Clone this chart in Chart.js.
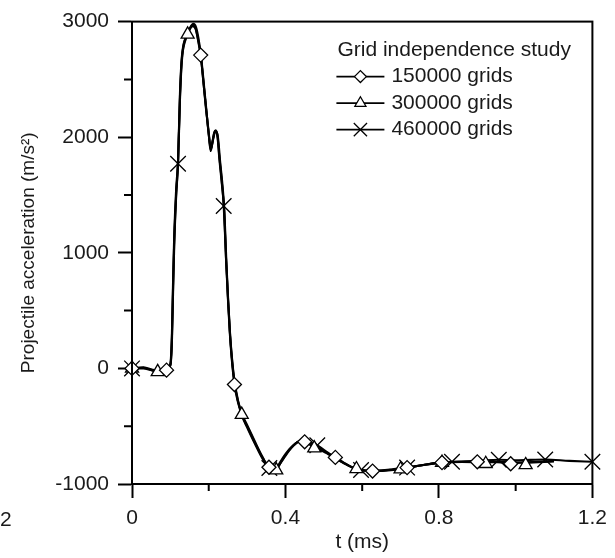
<!DOCTYPE html>
<html>
<head>
<meta charset="utf-8">
<script src="https://cdn.jsdelivr.net/npm/chart.js@4/dist/chart.umd.min.js"></script>
<style>
  html, body { margin: 0; padding: 0; background: #fff; }
  canvas { display: block; }
</style>
</head>
<body>
<canvas id="chart" width="615" height="558"></canvas>
<script>
// curve samples (t in ms, acceleration in m/s2)
const t150 = [0, 0.03, 0.06, 0.09, 0.1, 0.104, 0.107, 0.11, 0.115, 0.12, 0.125, 0.13, 0.14, 0.15, 0.158, 0.166, 0.172, 0.179, 0.186, 0.193, 0.2, 0.205, 0.21, 0.216, 0.222, 0.228, 0.234, 0.24, 0.245, 0.25, 0.255, 0.26, 0.267, 0.276, 0.286, 0.3, 0.32, 0.34, 0.357, 0.367, 0.378, 0.39, 0.41, 0.43, 0.45, 0.47, 0.49, 0.51, 0.53, 0.55, 0.57, 0.59, 0.61, 0.627, 0.65, 0.68, 0.717, 0.76, 0.808, 0.85, 0.9, 0.95, 0.987, 1.04, 1.1]
const a150 = [0, 5, -20, -15, 30, 250, 700, 1100, 1500, 1780, 2350, 2680, 2860, 2940, 2965, 2940, 2850, 2710, 2480, 2240, 2030, 1880, 1960, 2050, 2020, 1800, 1600, 1380, 950, 600, 300, 80, -140, -290, -400, -500, -640, -770, -855, -870, -855, -790, -700, -640, -630, -660, -695, -735, -770, -810, -850, -875, -885, -888, -885, -875, -858, -835, -815, -808, -808, -810, -820, -810, -800]

const t300 = [0, 0.03, 0.067, 0.09, 0.1, 0.104, 0.107, 0.11, 0.115, 0.12, 0.125, 0.13, 0.145, 0.152, 0.16, 0.167, 0.173, 0.18, 0.187, 0.194, 0.2, 0.206, 0.212, 0.218, 0.224, 0.23, 0.236, 0.241, 0.246, 0.251, 0.256, 0.262, 0.27, 0.286, 0.3, 0.32, 0.34, 0.358, 0.376, 0.39, 0.41, 0.43, 0.445, 0.46, 0.475, 0.5, 0.52, 0.55, 0.585, 0.62, 0.66, 0.7, 0.75, 0.808, 0.86, 0.922, 0.97, 1.026, 1.1]
const a300 = [0, 0, -30, -10, 40, 300, 750, 1150, 1550, 1800, 2380, 2700, 2890, 2950, 2980, 2950, 2860, 2700, 2470, 2230, 2020, 1900, 1990, 2060, 2000, 1780, 1580, 1350, 920, 570, 280, 40, -170, -400, -510, -650, -780, -860, -870, -800, -705, -640, -625, -650, -690, -720, -760, -815, -870, -888, -885, -872, -840, -815, -810, -812, -810, -815, -805]

const t460 = [0, 0.03, 0.06, 0.09, 0.1, 0.104, 0.107, 0.11, 0.115, 0.12, 0.125, 0.13, 0.14, 0.15, 0.158, 0.166, 0.172, 0.18, 0.187, 0.194, 0.2, 0.205, 0.21, 0.216, 0.222, 0.228, 0.234, 0.239, 0.245, 0.25, 0.255, 0.26, 0.267, 0.276, 0.286, 0.3, 0.32, 0.34, 0.358, 0.37, 0.38, 0.395, 0.415, 0.435, 0.45, 0.465, 0.483, 0.5, 0.52, 0.54, 0.56, 0.58, 0.597, 0.62, 0.65, 0.68, 0.717, 0.76, 0.8, 0.834, 0.9, 0.956, 1.0, 1.077, 1.14, 1.2]
const a460 = [0, 10, -15, -5, 25, 220, 650, 1050, 1480, 1770, 2320, 2660, 2850, 2930, 2960, 2935, 2840, 2680, 2450, 2220, 2040, 1890, 1970, 2055, 2030, 1820, 1620, 1405, 960, 620, 320, 100, -120, -280, -390, -490, -630, -765, -862, -868, -850, -780, -690, -630, -620, -640, -665, -705, -750, -795, -835, -865, -879, -885, -882, -872, -858, -835, -815, -808, -800, -790, -795, -788, -800, -808]

// symbol positions
const mt150 = [0, 0.09, 0.179, 0.267, 0.357, 0.45, 0.53, 0.627, 0.717, 0.808, 0.9, 0.987]
const ma150 = [0, -15, 2710, -140, -855, -635, -770, -888, -858, -815, -808, -825]
const mt300 = [0, 0.067, 0.145, 0.286, 0.376, 0.475, 0.585, 0.7, 0.808, 0.922, 1.026]
const ma300 = [0, -30, 2890, -400, -880, -690, -870, -872, -815, -825, -835]
const mt460 = [0, 0.12, 0.239, 0.358, 0.483, 0.597, 0.717, 0.834, 0.956, 1.077, 1.2]
const ma460 = [0, 1770, 1405, -862, -665, -879, -858, -808, -790, -788, -808]

const seriesNames = ['150000 grids', '300000 grids', '460000 grids']
const legendTitle = 'Grid independence study'
const xTickValues = [0, 0.4, 0.8, 1.2]
const yTickValues = [-1000, 0, 1000, 2000, 3000]

const FONT = 'Liberation Sans, Arial, sans-serif'
const TXT = '#1a1a1a'
const styles = [
  { pointStyle: 'rectRot', radius: 7 },
  { pointStyle: 'triangle', radius: 7.5 },
  { pointStyle: 'crossRot', radius: 11 },
]

const zip = (xs, ys) => xs.map((x, i) => ({ x, y: ys[i] }))

function curve(xs, ys) {
  return {
    type: 'line',
    data: zip(xs, ys),
    borderColor: '#000',
    borderWidth: 2.1,
    pointRadius: 0,
    cubicInterpolationMode: 'monotone',
    fill: false,
    order: 1,
  }
}

function symbols(xs, ys, s) {
  return {
    type: 'scatter',
    data: zip(xs, ys),
    showLine: false,
    pointStyle: s.pointStyle,
    pointRadius: s.radius,
    pointBackgroundColor: '#fff',
    pointBorderColor: '#000',
    pointBorderWidth: 1.3,
    clip: false,
    order: 0,
  }
}

// minor ticks + frame
const frame = {
  id: 'frame',
  afterDatasetsDraw(chart) {
    const { ctx, chartArea: a, scales: { x, y } } = chart
    ctx.save()
    ctx.strokeStyle = '#000'
    ctx.lineWidth = 2
    ctx.beginPath()
    for (let i = 0; i < x.ticks.length - 1; i++) {
      const px = x.getPixelForValue((x.ticks[i].value + x.ticks[i + 1].value) / 2)
      ctx.moveTo(px, a.bottom)
      ctx.lineTo(px, a.bottom + 7)
    }
    for (let i = 0; i < y.ticks.length - 1; i++) {
      const py = y.getPixelForValue((y.ticks[i].value + y.ticks[i + 1].value) / 2)
      ctx.moveTo(a.left, py)
      ctx.lineTo(a.left - 8, py)
    }
    ctx.stroke()
    ctx.strokeRect(a.left, a.top, a.right - a.left, a.bottom - a.top)
    ctx.restore()
  },
}

// legend drawn inside the plot, upper right
const legendBox = {
  id: 'legendBox',
  afterDraw(chart) {
    const { ctx, chartArea: a } = chart
    const left = a.right - 255
    ctx.save()
    ctx.font = `21px ${FONT}`
    ctx.fillStyle = TXT
    ctx.textBaseline = 'middle'
    ctx.textAlign = 'left'
    ctx.fillText(legendTitle, left, a.top + 29)
    seriesNames.forEach((name, i) => {
      const cy = a.top + 55 + i * 26.5
      ctx.strokeStyle = '#000'
      ctx.lineWidth = 1.8
      ctx.beginPath()
      ctx.moveTo(left - 1, cy)
      ctx.lineTo(left + 47, cy)
      ctx.stroke()
      ctx.fillStyle = '#fff'
      ctx.lineWidth = 1.3
      Chart.helpers.drawPoint(ctx, { pointStyle: styles[i].pointStyle, radius: styles[i].radius * 0.85, borderWidth: 1.3 }, left + 23, cy)
      ctx.fillStyle = TXT
      ctx.fillText(name, left + 54, cy)
    })
    // edge of the neighbouring panel, cut off in the scan
    ctx.fillText('2', 0, a.bottom + 36)
    ctx.restore()
  },
}

new Chart(document.getElementById('chart'), {
  type: 'scatter',
  data: {
    datasets: [
      symbols(mt150, ma150, styles[0]),
      symbols(mt300, ma300, styles[1]),
      symbols(mt460, ma460, styles[2]),
      curve(t150, a150),
      curve(t300, a300),
      curve(t460, a460),
    ],
  },
  options: {
    responsive: false,
    animation: false,
    layout: { padding: { top: 20, right: 21, left: 0, bottom: 0 } },
    plugins: { legend: { display: false }, tooltip: { enabled: false } },
    scales: {
      x: {
        type: 'linear',
        min: 0,
        max: 1.2,
        afterFit(s) { s.height = 74 },
        afterBuildTicks(s) { s.ticks = xTickValues.map(v => ({ value: v })) },
        ticks: {
          color: TXT,
          font: { family: FONT, size: 21 },
          padding: 8,
          maxRotation: 0,
          callback: v => v === 0 ? '0' : v.toFixed(1),
        },
        grid: { drawOnChartArea: false, tickLength: 14, tickWidth: 2, tickColor: '#000' },
        border: { color: '#000', width: 2 },
        title: { display: true, text: 't (ms)', color: TXT, font: { family: FONT, size: 21 }, padding: { top: 0, bottom: 3 } },
      },
      y: {
        min: -1000,
        max: 3000,
        afterFit(s) { s.width = 132 },
        afterBuildTicks(s) { s.ticks = yTickValues.map(v => ({ value: v })) },
        ticks: {
          color: TXT,
          font: { family: FONT, size: 21 },
          padding: 9,
          callback: v => String(v),
        },
        grid: { drawOnChartArea: false, tickLength: 14, tickWidth: 2, tickColor: '#000' },
        border: { color: '#000', width: 2 },
        title: { display: true, text: 'Projectile acceleration (m/s²)', color: TXT, font: { family: FONT, size: 19 }, padding: { top: 17, bottom: 0 } },
      },
    },
  },
  plugins: [frame, legendBox],
})
</script>
</body>
</html>
